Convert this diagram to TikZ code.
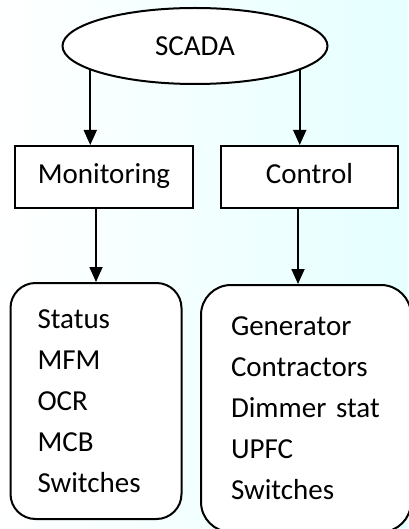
\documentclass[tikz,border=0pt]{standalone}
\usepackage{fontspec}
\setmainfont{Carlito}
\usetikzlibrary{shapes.geometric,arrows.meta}
\tikzset{
  box/.style={draw=black, line width=2pt, fill=white, font=\fontsize{29}{35}\selectfont},
  listbox/.style={box, align=left, font=\fontsize{29}{41}\selectfont},
  arr/.style={-{Triangle[length=15pt,width=13pt]}, line width=1.8pt}
}
\begin{document}
\begin{tikzpicture}[x=1pt,y=-1pt]
\useasboundingbox (0,0) rectangle (408,529);
\fill[left color=white, right color=cyan!10] (0,0) rectangle (408,529);
% top and middle level
\node[box, ellipse, minimum width=265pt, minimum height=76pt, inner sep=0pt] (scada) at (195,46) {SCADA};
\node[box, minimum width=178pt, minimum height=62pt, text height=20pt, text depth=6pt] (mon) at (104,177) {Monitoring};
\node[box, minimum width=177pt, minimum height=62pt, text height=20pt, text depth=6pt] (ctl) at (309.5,177) {Control};
% lists of devices
\node[listbox, rounded corners=25pt, text width=117pt, inner xsep=27pt, minimum height=236pt] (mlist) at (96,401)
  {Status\\MFM\\OCR\\MCB\\Switches};
\node[listbox, rounded corners=30pt, text width=150pt, inner xsep=30pt, minimum height=247pt] (clist) at (306,408.5)
  {Generator\\Contractors\\Dimmer stat\\UPFC\\Switches};
\draw[arr] (scada.193) -- (scada.193 |- mon.north);
\draw[arr] (scada.-13) -- (scada.-13 |- ctl.north);
\draw[arr] (mlist.north |- mon.south) -- (mlist.north);
\draw[arr] ([xshift=-11.5pt]ctl.south) -- ([xshift=-11.5pt]ctl.south |- clist.north);
\end{tikzpicture}
\end{document}
